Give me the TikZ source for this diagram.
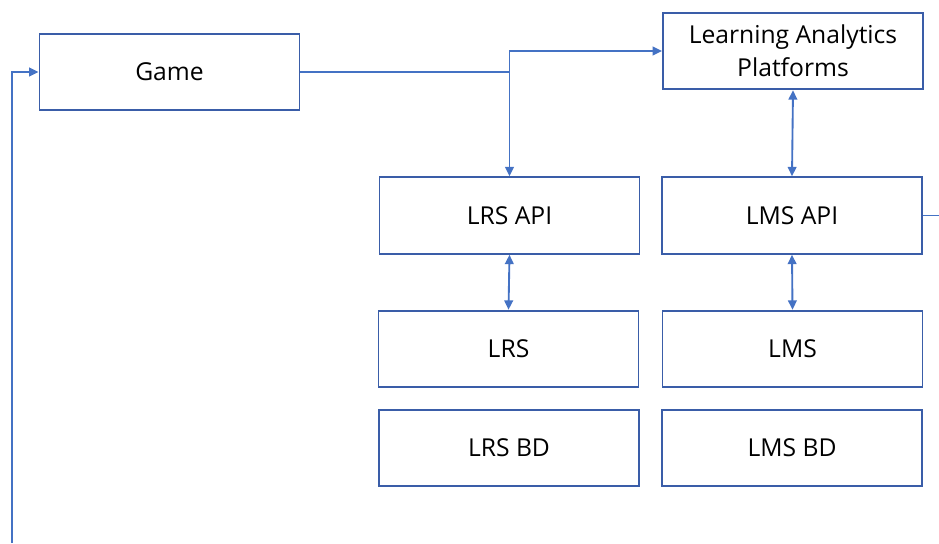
\documentclass[tikz,border=0pt]{standalone}
\usepackage{fontspec}
\setmainfont{Open Sans}
\usetikzlibrary{arrows.meta}
\definecolor{boxline}{HTML}{3A5DA8}
\definecolor{linkblue}{HTML}{4472C4}

\tikzset{
  block/.style={draw=boxline, line width=1.4pt, fill=white, minimum width=195pt, minimum height=57.5pt, inner sep=0pt, align=center, font=\fontsize{18.5}{25}\selectfont},
  link/.style={draw=linkblue, line width=1.4pt, -{Triangle[length=7pt,width=6.5pt]}},
  twoway/.style={link, {Triangle[length=7pt,width=6.5pt]}-{Triangle[length=7pt,width=6.5pt]}}
}

\begin{document}
\begin{tikzpicture}[x=0.75pt,y=-0.75pt]
\useasboundingbox (0,0) rectangle (939,543);
% boxes
\node[block] (game) at (169.5,72) {Game};
\node[block] (lap) at (793,51) {Learning Analytics\\Platforms};
\node[block] (lrsapi) at (509.5,215.5) {LRS API};
\node[block] (lmsapi) at (792,215.5) {LMS API};
\node[block] (lrs) at (508.5,349) {LRS};
\node[block] (lms) at (792.5,349) {LMS};
\node[block] (lrsbd) at (509,448) {LRS BD};
\node[block] (lmsbd) at (792,448) {LMS BD};
% free ends (loop leaves the picture)
\coordinate (split) at (509.5,72);
\coordinate (loopin) at (12,543);
\coordinate (loopout) at (939,215.5);
% connectors
\draw[link] (game.east) -- (split) -- (lrsapi.north);
\draw[link] (split) |- (lap.west);
\draw[twoway] (lap.south) -- (lmsapi.north);
\draw[twoway] (lrsapi.south) -- (lrs.north);
\draw[twoway] (lmsapi.south) -- (lms.north);
\draw[link, -] (lmsapi.east) -- (loopout);
\draw[link] (loopin) |- (game.west);
\end{tikzpicture}
\end{document}
